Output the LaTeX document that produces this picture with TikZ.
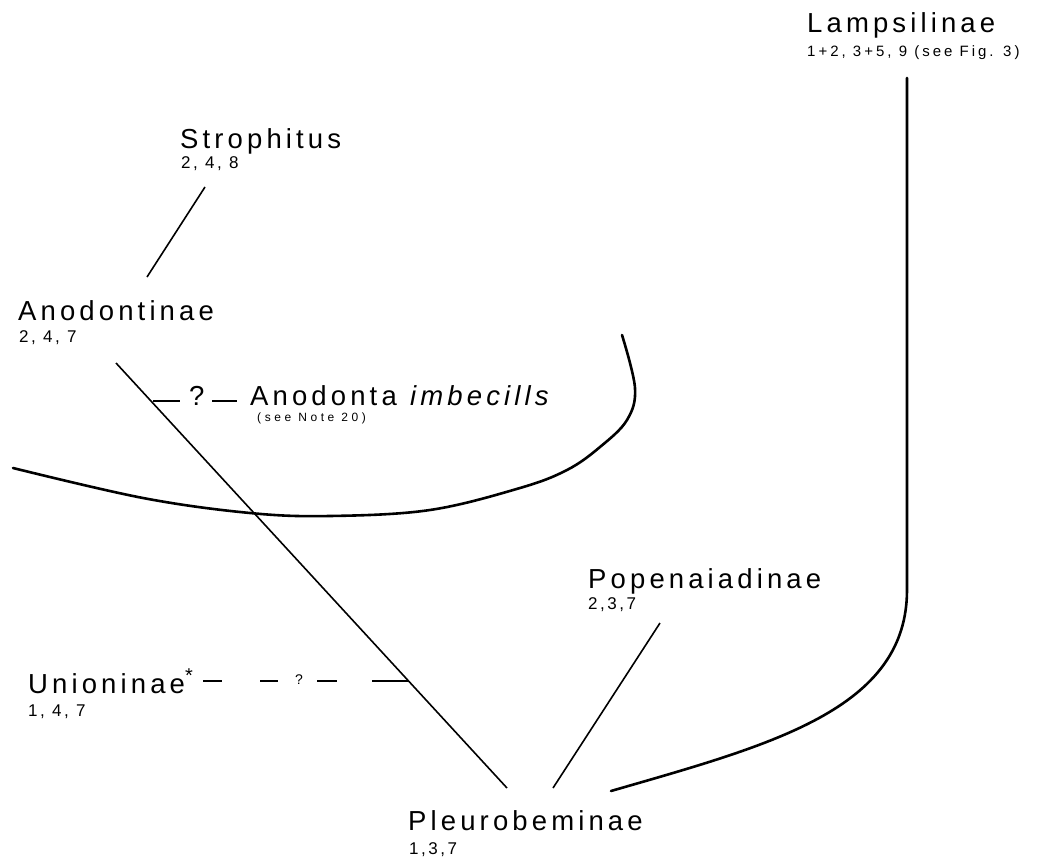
\documentclass[tikz,border=0pt]{standalone}
\usepackage{fontspec}
\setmainfont{Liberation Sans}
\newfontfamily\labfont[LetterSpace=15]{Liberation Sans}
\newfontfamily\subfont[LetterSpace=15]{Liberation Sans}
\newfontfamily\lsubfont[LetterSpace=20]{Liberation Sans}
\newfontfamily\notefont[LetterSpace=30]{Liberation Sans}
\begin{document}
\begin{tikzpicture}[x=1pt,y=-1pt,
  lab/.style={inner sep=0pt, anchor=base west, font=\labfont\fontsize{27.5}{27.5}\selectfont},
  sublab/.style={inner sep=0pt, anchor=base west, font=\subfont\fontsize{17}{17}\selectfont},
  conn/.style={line width=1.6pt},
  heavy/.style={line width=2.6pt, line cap=round},
  dashseg/.style={line width=1.8pt}
]
\useasboundingbox (0,0) rectangle (1037,867);

% ---- labels ----
\node[lab] (lamp) at (807,33) {Lampsilinae};
\node[inner sep=0pt, anchor=base west, font=\lsubfont\fontsize{15}{15}\selectfont] (lampn) at (807,57) {1+2, 3+5, 9 (see Fig. 3)};

\node[lab] (stro) at (180,148) {Strophitus};
\node[sublab] (stron) at (181,168) {2, 4, 8};

\node[lab] (anod) at (18,320) {Anodontinae};
\node[sublab] (anodn) at (19,342) {2, 4, 7};

\node[lab] (anima) at (250,405) {Anodonta};
\node[lab, font=\labfont\itshape\fontsize{27.5}{27.5}\selectfont] (animb) at (410,405) {imbecills};
\node[inner sep=0pt, anchor=base west, font=\notefont\fontsize{12}{12}\selectfont] (animn) at (257,421) {(see Note 20)};
\node[lab] (q1) at (189,405) {?};

\node[lab] (pope) at (588,588) {Popenaiadinae};
\node[sublab] (popen) at (588,609) {2,3,7};

\node[lab] (unio) at (28,693) {Unioninae\raisebox{0.40em}{\fontsize{20}{20}\selectfont *}};
\node[sublab] (union) at (28,716) {1, 4, 7};
\node[inner sep=0pt, anchor=base west, font=\subfont\fontsize{14}{14}\selectfont] (q2) at (295,684) {?};

\node[lab] (pleu) at (408,830) {Pleurobeminae};
\node[sublab] (pleun) at (409,854) {1,3,7};

% ---- connector end points ----
\coordinate (s1) at (205,187);
\coordinate (s2) at (147,277);
\coordinate (a1) at (116,363);
\coordinate (a2) at (507,788);
\coordinate (p1) at (660,623);
\coordinate (p2) at (553,788);
\coordinate (l1) at (907,78);
\coordinate (l2) at (907,590);
\coordinate (l3) at (611,791);

% ---- connectors ----
\draw[conn] (s1) -- (s2);
\draw[conn] (a1) -- (a2);
\draw[conn] (p1) -- (p2);
\draw[heavy] (l1) -- (l2) .. controls (907,710) and (770,745) .. (l3);

% big curve
\draw[heavy] plot[smooth, tension=0.6] coordinates {(13,468) (143,498) (250,513) (330,516) (430,510) (520,488) (567,470) (600,447) (627,420) (635,388) (622,335)};

% dashes to Anodonta imbecills
\coordinate (d1a) at (153,401); \coordinate (d1b) at (180,401);
\coordinate (d2a) at (212,401); \coordinate (d2b) at (237,401);
\draw[dashseg] (d1a) -- (d1b);
\draw[dashseg] (d2a) -- (d2b);

% dashes from Unioninae
\coordinate (u1a) at (203,681); \coordinate (u1b) at (222,681);
\coordinate (u2a) at (260,681); \coordinate (u2b) at (278,681);
\coordinate (u3a) at (317,681); \coordinate (u3b) at (337,681);
\coordinate (u4a) at (372,681); \coordinate (u4b) at (408,681);
\draw[dashseg] (u1a) -- (u1b);
\draw[dashseg] (u2a) -- (u2b);
\draw[dashseg] (u3a) -- (u3b);
\draw[dashseg] (u4a) -- (u4b);
\end{tikzpicture}
\end{document}
